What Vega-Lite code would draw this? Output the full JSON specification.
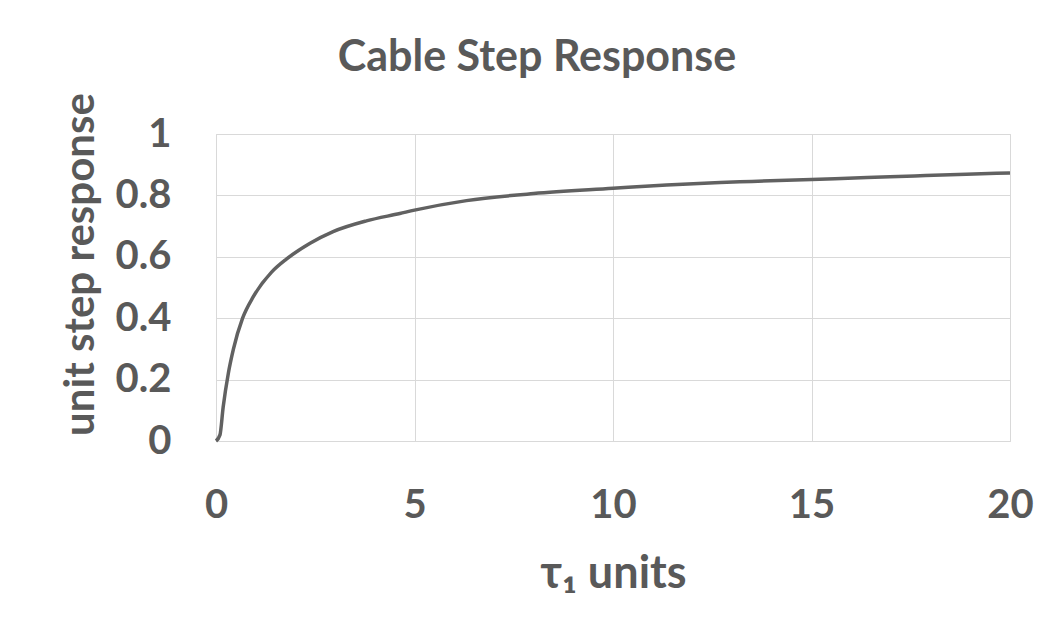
{
  "$schema": "https://vega.github.io/schema/vega-lite/v6.json",
  "width": 794,
  "height": 307,
  "autosize": {"type": "none"},
  "padding": {"left": 216, "top": 134, "right": 41, "bottom": 196},
  "background": "white",
  "title": {
    "text": "Cable Step Response",
    "font": "Lato",
    "fontWeight": "bold",
    "fontSize": 43,
    "color": "#595959",
    "anchor": "middle",
    "frame": "group",
    "baseline": "alphabetic",
    "offset": 59,
    "dx": -76,
    "dy": 80
  },
  "data": {
    "values": [
      {"t": 0, "v": 0},
      {"t": 0.1, "v": 0.02},
      {"t": 0.18, "v": 0.11},
      {"t": 0.31, "v": 0.22},
      {"t": 0.44, "v": 0.3},
      {"t": 0.67, "v": 0.4},
      {"t": 0.94, "v": 0.47},
      {"t": 1.4, "v": 0.55},
      {"t": 1.78, "v": 0.593},
      {"t": 2.37, "v": 0.644},
      {"t": 2.95, "v": 0.682},
      {"t": 3.79, "v": 0.717},
      {"t": 4.63, "v": 0.741},
      {"t": 5.0, "v": 0.752},
      {"t": 6.31, "v": 0.783},
      {"t": 8.0, "v": 0.806},
      {"t": 10.0, "v": 0.823},
      {"t": 11.35, "v": 0.834},
      {"t": 12.7, "v": 0.842},
      {"t": 13.5, "v": 0.8455},
      {"t": 15.0, "v": 0.852},
      {"t": 16.4, "v": 0.858},
      {"t": 17.6, "v": 0.8635},
      {"t": 18.9, "v": 0.869},
      {"t": 20.0, "v": 0.873}
    ]
  },
  "mark": {"type": "line", "color": "#616161", "strokeWidth": 3.5, "interpolate": "monotone"},
  "encoding": {
    "x": {
      "field": "t",
      "type": "quantitative",
      "scale": {"domain": [0, 20], "nice": false, "zero": true},
      "axis": {
        "title": "τ₁ units",
        "values": [0, 5, 10, 15, 20],
        "tickSize": 0,
        "ticks": false,
        "domain": false,
        "labelPadding": 76,
        "labelBaseline": "alphabetic",
        "labelFontSize": 40,
        "labelFont": "Lato",
        "labelFontWeight": "bold",
        "labelColor": "#595959",
        "labelFlush": false,
        "titleFont": "Lato",
        "titleFontWeight": "bold",
        "titleFontSize": 45,
        "titleColor": "#595959",
        "titleBaseline": "alphabetic",
        "titleY": 146,
        "gridColor": "#d9d9d9",
        "gridWidth": 1
      }
    },
    "y": {
      "field": "v",
      "type": "quantitative",
      "scale": {"domain": [0, 1], "nice": false},
      "axis": {
        "title": "unit step response",
        "values": [0, 0.2, 0.4, 0.6, 0.8, 1],
        "format": "~g",
        "tickSize": 0,
        "ticks": false,
        "domain": false,
        "labelPadding": 45,
        "labelBaseline": "middle",
        "labelFontSize": 40,
        "labelFont": "Lato",
        "labelFontWeight": "bold",
        "labelColor": "#595959",
        "labelFlush": false,
        "titleFont": "Lato",
        "titleFontWeight": "bold",
        "titleFontSize": 42,
        "titleColor": "#595959",
        "titleAngle": -90,
        "titleAlign": "center",
        "titleBaseline": "alphabetic",
        "titleX": -123,
        "titleY": 130,
        "gridColor": "#d9d9d9",
        "gridWidth": 1
      }
    }
  },
  "config": {
    "view": {"stroke": "#d9d9d9", "strokeWidth": 1}
  }
}
